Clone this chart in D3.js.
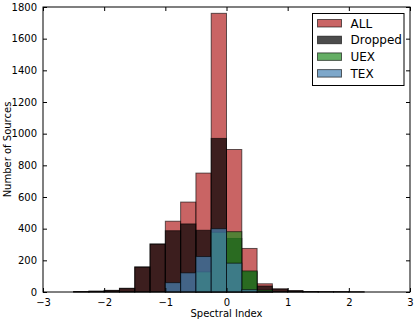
<!DOCTYPE html>
<html>
<head>
<meta charset="utf-8">
<script src="https://cdn.jsdelivr.net/npm/d3@7"></script>
<style>
  body { margin: 0; background: #fff; }
  text { font-family: "DejaVu Sans", sans-serif; }
</style>
</head>
<body>
<div id="chart"></div>
<script>
// bin edges (left edge of each bar), width 0.25
var binStarts = [-2.5, -2.25, -2.0, -1.75, -1.5, -1.25, -1.0, -0.75, -0.5, -0.25,
                 0.0, 0.25, 0.5, 0.75, 1.0, 1.25, 1.5, 1.75, 2.0];
var binWidth = 0.25;

// counts per bin
var allCounts     = [3, 5, 10, 23, 158, 303, 447, 568, 751, 1760, 900, 275, 52, 20, 8, 3, 2, 2, 1];
var droppedCounts = [3, 5, 10, 23, 158, 303, 387, 430, 390, 970, 338, 128, 38, 18, 8, 3, 2, 2, 1];
var uexCounts     = [0, 0, 0, 0, 0, 0, 0, 0, 127, 377, 381, 133, 12, 0, 0, 0, 0, 0, 0];
var texCounts     = [0, 0, 0, 0, 0, 0, 59, 121, 224, 400, 182, 15, 3, 0, 0, 0, 0, 0, 0];

var seriesNames = ["ALL", "Dropped", "UEX", "TEX"];
var seriesColors = ["firebrick", "black", "forestgreen", "steelblue"];

var xTicks = [-3, -2, -1, 0, 1, 2, 3];
var yTicks = [0, 200, 400, 600, 800, 1000, 1200, 1400, 1600, 1800];

var W = 415, H = 321;
var margin = {top: 7, right: 5, bottom: 30, left: 43};

var svg = d3.select("#chart")
  .append("svg")
    .attr("width", W)
    .attr("height", H);

var x = d3.scaleLinear().domain([-3, 3]).range([margin.left, W - margin.right]);
var y = d3.scaleLinear().domain([0, 1800]).range([H - margin.bottom + 1, margin.top]);

var series = [allCounts, droppedCounts, uexCounts, texCounts];

// bars, drawn in order so later ones overlay earlier (alpha 0.7)
series.forEach(function(counts, i) {
  svg.append("g")
    .selectAll("rect")
    .data(counts)
    .enter()
    .append("rect")
      .attr("x", function(d, j) { return x(binStarts[j]); })
      .attr("width", function(d, j) { return x(binStarts[j] + binWidth) - x(binStarts[j]); })
      .attr("y", function(d) { return y(d); })
      .attr("height", function(d) { return y(0) - y(d); })
      .style("fill", seriesColors[i])
      .style("fill-opacity", function(d) { return d > 0 ? 0.7 : 0; })
      .style("stroke", "black")
      .style("stroke-opacity", function(d) { return d > 0 ? 0.6 : 0; })
      .style("stroke-width", 1);
});

// axes (ticks inside, on all four sides like matplotlib classic)
var x0 = x.range()[0], x1 = x.range()[1], y0 = y.range()[0], y1 = y.range()[1];

svg.append("g")
  .attr("transform", "translate(0," + y0 + ")")
  .call(d3.axisBottom(x).tickValues(xTicks).tickSizeInner(-4).tickSizeOuter(0).tickPadding(7).tickFormat(d3.format("d")))
  .call(function(g) { g.select(".domain").remove(); });

svg.append("g")
  .attr("transform", "translate(0," + y1 + ")")
  .call(d3.axisTop(x).tickValues(xTicks).tickSizeInner(-4).tickSizeOuter(0).tickFormat(""))
  .call(function(g) { g.select(".domain").remove(); });

svg.append("g")
  .attr("transform", "translate(" + x0 + ",0)")
  .call(d3.axisLeft(y).tickValues(yTicks).tickSizeInner(-4).tickSizeOuter(0).tickPadding(6).tickFormat(d3.format("d")))
  .call(function(g) { g.select(".domain").remove(); });

svg.append("g")
  .attr("transform", "translate(" + x1 + ",0)")
  .call(d3.axisRight(y).tickValues(yTicks).tickSizeInner(-4).tickSizeOuter(0).tickFormat(""))
  .call(function(g) { g.select(".domain").remove(); });

svg.selectAll(".tick text")
  .style("font-family", "DejaVu Sans, sans-serif")
  .style("font-size", "10px")
  .style("fill", "black");

svg.append("rect")
  .attr("x", x0)
  .attr("y", y1)
  .attr("width", x1 - x0)
  .attr("height", y0 - y1)
  .style("fill", "none")
  .style("stroke", "black")
  .style("stroke-width", 1);

// axis labels
svg.append("text")
  .attr("x", (x0 + x1) / 2)
  .attr("y", 317)
  .attr("text-anchor", "middle")
  .style("font-size", "10px")
  .text("Spectral Index");

svg.append("text")
  .attr("transform", "translate(11," + ((y0 + y1) / 2) + ") rotate(-90)")
  .attr("text-anchor", "middle")
  .style("font-size", "10px")
  .text("Number of Sources");

// legend
var legend = svg.append("g").attr("transform", "translate(312.5,13.5)");

legend.append("rect")
  .attr("width", 91.5)
  .attr("height", 72)
  .style("fill", "white")
  .style("stroke", "black")
  .style("stroke-width", 1);

var item = legend.selectAll("g.item")
  .data(seriesNames)
  .enter()
  .append("g")
    .attr("class", "item")
    .attr("transform", function(d, i) { return "translate(5," + (6 + i * 16.7) + ")"; });

item.append("rect")
  .attr("width", 24)
  .attr("height", 7.5)
  .style("fill", function(d, i) { return seriesColors[i]; })
  .style("fill-opacity", 0.7)
  .style("stroke", "black")
  .style("stroke-opacity", 0.6);

item.append("text")
  .attr("x", 33)
  .attr("y", 4)
  .attr("dy", "0.35em")
  .style("font-size", "12px")
  .text(function(d) { return d; });
</script>
</body>
</html>
